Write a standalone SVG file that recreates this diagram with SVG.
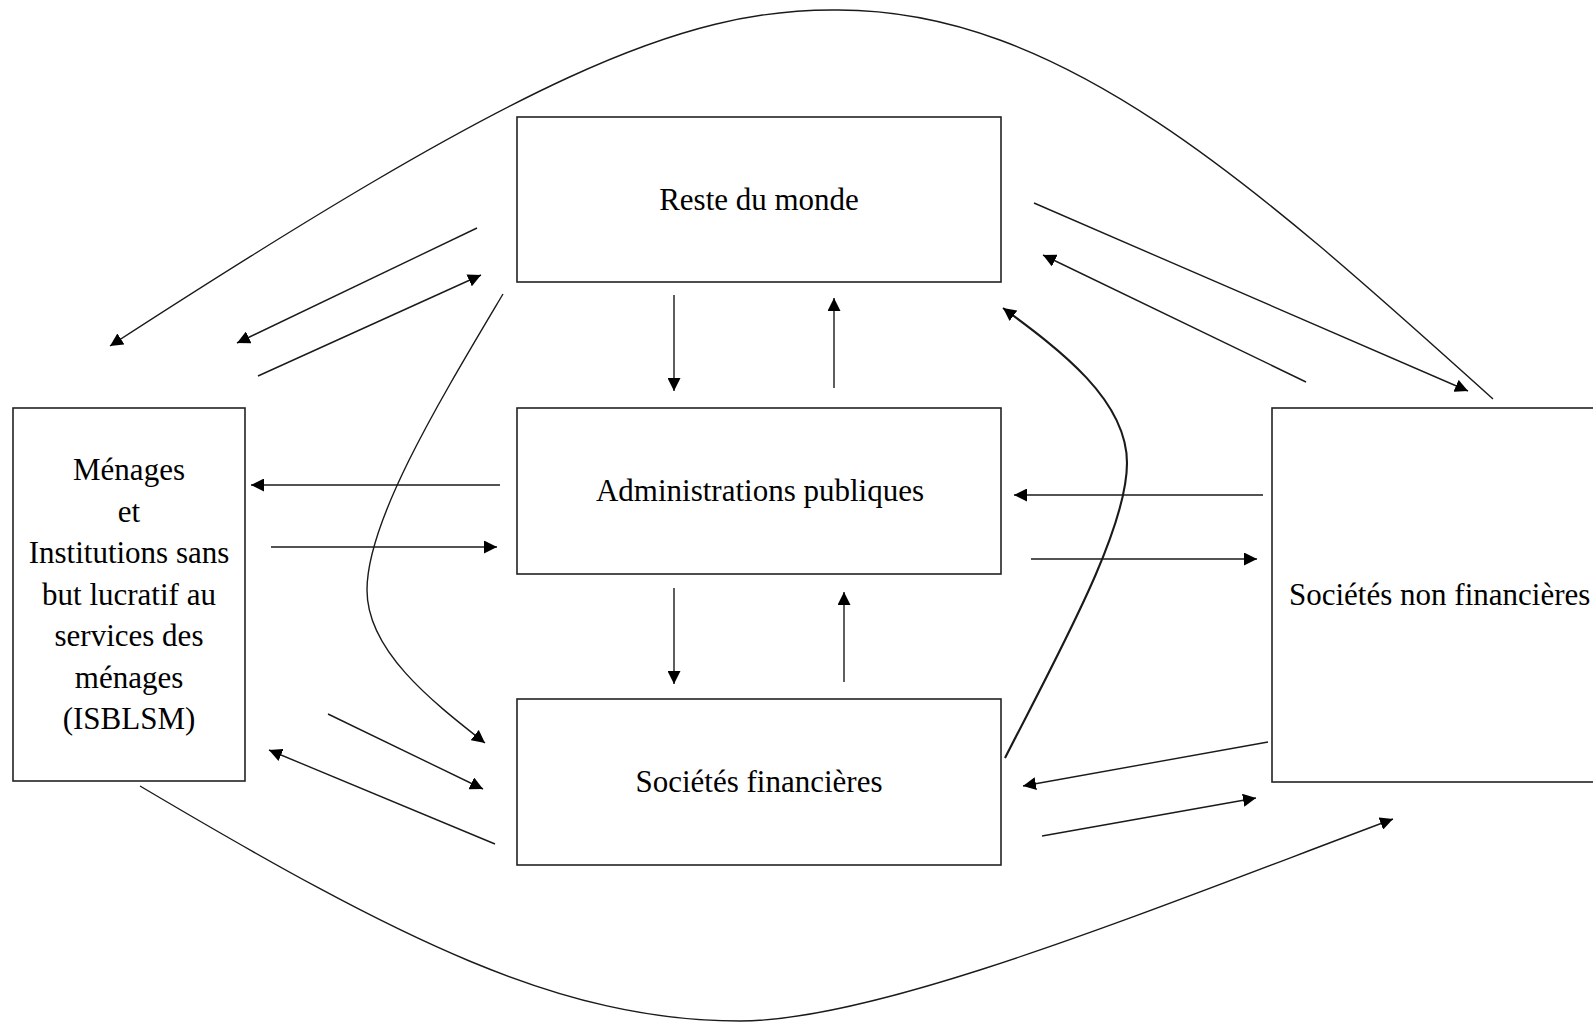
<svg xmlns="http://www.w3.org/2000/svg" width="1593" height="1023" viewBox="0 0 1593 1023">
<style>
.box{fill:#fff;stroke:#222;stroke-width:1.6}
.lbl{font-family:"Liberation Serif","Times New Roman",serif;font-size:31px;fill:#000}
.c{text-anchor:middle}
.ln{fill:none;stroke:#1a1a1a;stroke-width:1.4;marker-end:url(#ah)}
.thick{stroke-width:2.1}
</style>
<defs>
<marker id="ah" markerUnits="userSpaceOnUse" markerWidth="14" markerHeight="13" refX="13" refY="6.5" orient="auto">
<path d="M0,0 L13,6.5 L0,13 z" fill="#000"/>
</marker>
</defs>
<rect width="1593" height="1023" fill="#fff"/>
<g id="reste-du-monde">
<rect class="box" x="517" y="117" width="484" height="165"/>
<text class="lbl c" x="759" y="210">Reste du monde</text>
</g>
<g id="administrations-publiques">
<rect class="box" x="517" y="408" width="484" height="166"/>
<text class="lbl c" x="760" y="501">Administrations publiques</text>
</g>
<g id="societes-financieres">
<rect class="box" x="517" y="699" width="484" height="166"/>
<text class="lbl c" x="759" y="792">Sociétés financières</text>
</g>
<g id="menages">
<rect class="box" x="13" y="408" width="232" height="373"/>
<text class="lbl c" x="129" y="480">Ménages</text>
<text class="lbl c" x="129" y="521.5">et</text>
<text class="lbl c" x="129" y="563">Institutions sans</text>
<text class="lbl c" x="129" y="604.5">but lucratif au</text>
<text class="lbl c" x="129" y="646">services des</text>
<text class="lbl c" x="129" y="687.5">ménages</text>
<text class="lbl c" x="129" y="729">(ISBLSM)</text>
</g>
<g id="societes-non-financieres">
<rect class="box" x="1272" y="408" width="340" height="374"/>
<text class="lbl" x="1289" y="605">Sociétés non financières</text>
</g>
<g id="connectors">
<path class="ln" d="M1493 399 C1250 180 1060 10 838 10 C680 8 520 80 110 346"/>
<path class="ln" d="M140 786 C400 940 560 1021 740 1021 C880 1021 1150 910 1393 819"/>
<line class="ln" x1="477" y1="228" x2="237" y2="343"/>
<line class="ln" x1="258" y1="376" x2="481" y2="275"/>
<path class="ln" d="M503 294 C440 400 367 520 367 590 C367 650 430 700 485 743"/>
<line class="ln" x1="674" y1="295" x2="674" y2="391"/>
<line class="ln" x1="834" y1="388" x2="834" y2="298"/>
<line class="ln" x1="500" y1="485" x2="251" y2="485"/>
<line class="ln" x1="271" y1="547" x2="497" y2="547"/>
<line class="ln" x1="674" y1="588" x2="674" y2="684"/>
<line class="ln" x1="844" y1="682" x2="844" y2="592"/>
<line class="ln" x1="328" y1="714" x2="483" y2="789"/>
<line class="ln" x1="495" y1="844" x2="269" y2="750"/>
<path class="ln thick" d="M1005 758 C1060 650 1127 530 1127 463 C1127 400 1060 350 1003 308"/>
<line class="ln" x1="1034" y1="203" x2="1468" y2="391"/>
<line class="ln" x1="1306" y1="382" x2="1043" y2="255"/>
<line class="ln" x1="1263" y1="495" x2="1014" y2="495"/>
<line class="ln" x1="1031" y1="559" x2="1257" y2="559"/>
<line class="ln" x1="1268" y1="742" x2="1023" y2="786"/>
<line class="ln" x1="1042" y1="836" x2="1256" y2="798"/>
</g>
</svg>
